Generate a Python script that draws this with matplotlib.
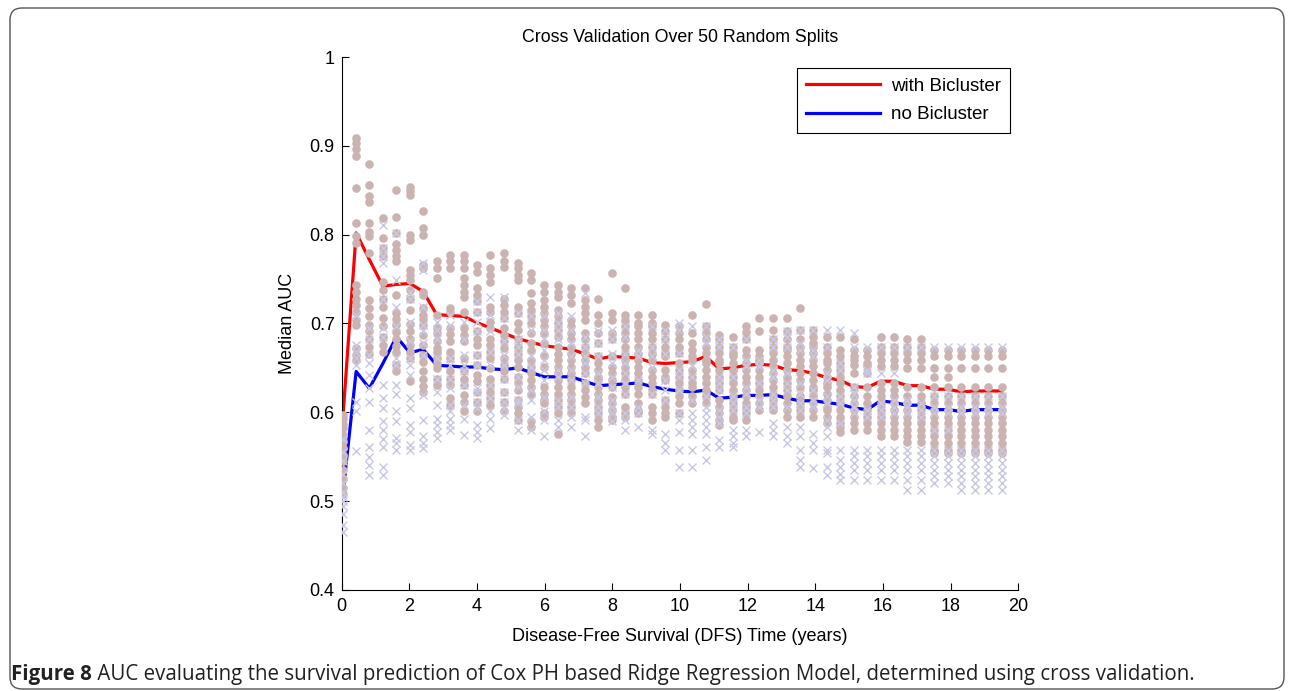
import matplotlib
matplotlib.use("Agg")
import matplotlib.pyplot as plt
from matplotlib.patches import FancyBboxPatch

# time points (years) of the 50 evaluation columns
times = [0.03, 0.43, 0.82, 1.22, 1.62, 2.02, 2.41, 2.81, 3.21, 3.61,
         4.00, 4.40, 4.80, 5.20, 5.59, 5.99, 6.39, 6.79, 7.18, 7.58,
         7.98, 8.38, 8.77, 9.17, 9.57, 9.97, 10.36, 10.76, 11.16, 11.56,
         11.95, 12.35, 12.75, 13.15, 13.54, 13.94, 14.34, 14.74, 15.13, 15.53,
         15.93, 16.33, 16.72, 17.12, 17.52, 17.92, 18.31, 18.71, 19.11, 19.51]

# median AUC lines
with_median = [0.590, 0.802, 0.772, 0.742, 0.744, 0.745, 0.736, 0.710, 0.709, 0.708,
               0.701, 0.695, 0.689, 0.683, 0.679, 0.675, 0.673, 0.671, 0.666, 0.660,
               0.663, 0.662, 0.661, 0.656, 0.655, 0.656, 0.657, 0.663, 0.649, 0.650,
               0.653, 0.654, 0.653, 0.648, 0.647, 0.644, 0.639, 0.636, 0.629, 0.628,
               0.635, 0.635, 0.630, 0.630, 0.626, 0.626, 0.623, 0.624, 0.624, 0.624]
no_median = [0.505, 0.646, 0.627, 0.655, 0.685, 0.667, 0.671, 0.653, 0.652, 0.651,
             0.651, 0.649, 0.648, 0.650, 0.645, 0.640, 0.640, 0.640, 0.635, 0.630,
             0.631, 0.632, 0.633, 0.629, 0.626, 0.624, 0.623, 0.625, 0.616, 0.617,
             0.619, 0.619, 0.620, 0.616, 0.613, 0.613, 0.611, 0.609, 0.605, 0.603,
             0.613, 0.611, 0.608, 0.608, 0.603, 0.603, 0.601, 0.603, 0.603, 0.603]

# AUC of each split (in %), one list per time column
with_pts = [
    [59.7, 59.2, 58.7, 58.2, 57.5, 56.8, 56.0, 55.2, 54.5, 53.5, 52.5, 51.5, 50.8],
    [90.9, 90.3, 89.7, 88.8, 85.3, 81.3, 79.8, 79.1, 74.3, 73.6, 72.8, 72.1, 71.3, 70.4, 69.8, 67.2, 66.5, 65.9],
    [87.9, 85.6, 84.3, 83.7, 81.3, 80.3, 79.8, 77.9, 72.7, 71.7, 70.8, 69.8, 69.1, 68.2, 67.4, 66.6],
    [81.9, 79.6, 78.5, 77.6, 74.7, 73.8, 72.8, 71.9, 70.6, 69.7, 68.5, 67.6, 66.8],
    [85.0, 82.0, 80.2, 79.0, 78.3, 77.6, 77.0, 73.2, 71.2, 70.5, 69.8, 69.0, 68.2, 67.5, 66.8, 65.3, 64.6],
    [85.4, 84.9, 84.5, 80.0, 79.4, 76.0, 75.5, 74.9, 73.8, 72.8, 71.5, 69.9, 69.1, 68.3, 67.6, 66.8, 66.1, 63.5],
    [82.7, 80.7, 80.0, 76.6, 76.2, 73.6, 73.2, 71.7, 71.0, 70.5, 69.8, 68.7, 67.6, 66.5, 65.7, 64.6, 63.8, 63.0, 62.3],
    [77.0, 76.2, 75.1, 71.0, 69.5, 68.9, 68.0, 67.2, 66.8, 66.1, 65.4, 65.0, 63.8, 63.1],
    [77.7, 77.0, 76.2, 71.7, 71.3, 69.5, 68.8, 68.0, 66.8, 66.1, 64.6, 63.8, 63.1, 61.6, 60.8],
    [77.7, 77.0, 76.2, 75.1, 74.3, 73.6, 73.0, 71.3, 69.5, 68.7, 68.0, 66.1, 64.6, 63.8, 63.1, 62.0, 61.2, 60.1],
    [76.6, 75.8, 74.0, 73.2, 72.5, 71.3, 69.1, 68.3, 67.6, 66.5, 65.3, 64.2, 63.5, 62.3, 61.2, 60.1],
    [77.7, 76.2, 75.5, 74.7, 71.9, 71.3, 70.2, 69.5, 68.3, 67.6, 66.8, 66.1, 65.0, 63.8, 63.1, 62.3, 61.6, 60.8],
    [77.9, 77.0, 76.4, 72.8, 72.1, 71.3, 70.6, 69.5, 68.7, 68.0, 67.2, 66.1, 65.3, 64.6, 63.8, 62.3, 61.2, 60.1],
    [76.8, 76.2, 75.5, 74.9, 71.9, 71.2, 70.0, 69.3, 68.2, 67.4, 66.6, 65.9, 65.1, 64.0, 63.3, 62.5, 61.4, 60.6, 59.9, 59.1],
    [75.7, 74.9, 73.4, 72.3, 71.5, 70.8, 70.0, 68.9, 67.8, 67.0, 65.9, 65.1, 64.4, 63.6, 62.9, 62.1, 59.0, 58.4],
    [74.3, 73.6, 72.7, 71.9, 71.2, 70.4, 69.7, 68.9, 67.8, 66.3, 65.1, 62.9, 62.1, 61.4, 61.0, 59.9, 59.5],
    [74.3, 73.6, 73.0, 71.5, 70.8, 70.0, 69.3, 68.5, 67.4, 66.6, 65.9, 65.1, 64.4, 63.6, 62.9, 62.1, 61.4, 60.6, 59.9, 57.6],
    [74.0, 73.2, 72.3, 70.4, 69.7, 68.9, 68.2, 67.4, 66.6, 65.9, 65.1, 64.4, 63.6, 62.9, 62.1, 61.4, 60.6, 59.9],
    [74.0, 72.7, 71.9, 71.2, 70.4, 68.9, 68.2, 67.4, 66.6, 65.9, 65.1, 64.4, 63.3, 62.5, 61.7, 61.0],
    [72.8, 71.0, 70.0, 68.9, 67.8, 66.3, 65.5, 64.8, 64.0, 63.6, 62.9, 62.1, 61.4, 60.6, 59.9, 59.1, 58.4],
    [75.7, 71.2, 70.4, 68.9, 68.2, 66.3, 65.1, 64.4, 63.6, 62.9, 61.7, 61.0, 60.3, 59.5, 59.1],
    [74.0, 71.0, 70.4, 69.7, 68.9, 68.2, 67.4, 66.6, 65.9, 65.1, 64.4, 63.6, 62.9, 62.1, 60.6, 59.9, 59.5],
    [71.0, 70.0, 69.7, 68.9, 68.2, 67.4, 66.6, 65.9, 65.1, 64.4, 63.6, 62.9, 62.1, 61.0, 60.3, 59.9],
    [71.0, 70.0, 69.7, 68.9, 68.2, 67.4, 66.6, 65.9, 64.8, 64.0, 63.3, 62.5, 62.1, 60.6, 59.9, 59.1],
    [69.8, 69.1, 68.2, 67.4, 66.7, 66.3, 64.8, 64.0, 63.6, 61.4, 60.6, 59.9, 59.5],
    [69.7, 68.9, 68.2, 67.4, 66.7, 65.5, 64.8, 64.0, 63.3, 62.5, 61.8, 61.0, 59.9],
    [71.0, 68.9, 67.8, 67.0, 66.3, 65.9, 64.8, 64.0, 63.3, 62.9, 61.8, 61.0],
    [72.2, 69.7, 68.9, 68.2, 67.4, 66.7, 65.9, 65.5, 64.8, 64.0, 63.3, 62.5, 61.8, 61.0],
    [68.7, 68.2, 67.4, 66.7, 65.9, 65.5, 64.8, 64.0, 63.3, 62.5, 61.4, 60.6, 59.9, 59.1, 58.6],
    [68.5, 67.4, 66.7, 66.3, 65.5, 64.8, 64.0, 63.3, 62.5, 61.8, 61.0, 60.3, 59.5, 59.1],
    [69.7, 69.0, 68.2, 67.0, 66.3, 65.5, 64.8, 64.0, 63.3, 62.5, 61.8, 61.0, 60.6, 59.9, 59.1],
    [70.6, 69.2, 67.0, 66.3, 65.9, 65.5, 64.8, 64.0, 63.3, 62.5, 61.8, 61.0, 60.3],
    [70.6, 69.3, 68.2, 67.4, 66.7, 65.9, 65.2, 64.4, 63.6, 62.9, 62.1, 61.4, 60.6, 60.3],
    [70.6, 69.1, 68.2, 67.4, 67.0, 66.3, 65.5, 64.8, 64.0, 63.3, 62.5, 61.8, 61.0, 60.3, 59.5],
    [71.8, 69.3, 68.2, 67.4, 66.7, 65.9, 65.2, 64.4, 63.6, 62.9, 61.8, 61.0, 60.3, 59.5],
    [69.3, 68.5, 67.8, 67.4, 66.7, 65.9, 65.2, 64.4, 63.6, 62.9, 62.5, 61.8, 61.0, 60.3, 59.5],
    [68.5, 67.4, 66.7, 65.9, 65.5, 64.8, 64.0, 63.3, 62.9, 62.1, 61.4, 60.6, 60.3, 59.5, 58.8],
    [68.5, 67.0, 66.3, 65.5, 64.8, 64.0, 63.3, 62.5, 61.8, 61.0, 60.3, 59.5, 58.8, 58.4, 57.8],
    [68.2, 67.0, 66.3, 65.9, 65.3, 64.4, 62.9, 61.8, 61.0, 60.3, 59.5, 58.8, 58.0],
    [67.0, 66.3, 65.5, 65.2, 64.4, 62.9, 61.8, 61.0, 60.3, 59.5, 58.8, 58.0],
    [68.5, 67.4, 66.7, 65.9, 65.2, 63.3, 62.5, 61.8, 61.0, 60.3, 59.5, 58.8, 58.0, 57.3],
    [68.5, 67.4, 66.7, 65.9, 65.2, 63.3, 62.5, 61.8, 61.0, 60.3, 59.5, 58.8, 58.0, 57.3],
    [68.3, 67.4, 66.7, 65.9, 65.0, 62.9, 61.8, 61.0, 60.3, 59.5, 58.8, 58.0, 57.3, 56.7],
    [68.3, 67.4, 66.7, 65.9, 65.0, 62.9, 61.8, 61.0, 60.3, 59.5, 58.8, 58.0, 57.3, 56.7],
    [67.0, 66.3, 65.0, 64.0, 62.9, 61.8, 61.0, 60.3, 59.5, 58.8, 58.0, 57.3, 56.5, 55.8, 55.4],
    [67.0, 66.3, 65.0, 64.0, 62.9, 61.8, 61.0, 60.3, 59.5, 58.8, 58.0, 57.3, 56.5, 55.8, 55.4],
    [67.0, 66.3, 65.0, 62.9, 61.8, 61.0, 60.3, 59.5, 58.8, 58.0, 57.3, 56.5, 55.8, 55.4],
    [67.0, 66.3, 65.0, 62.9, 61.8, 61.0, 60.3, 59.5, 58.8, 58.0, 57.3, 56.5, 55.8, 55.4],
    [67.0, 66.3, 65.0, 62.9, 61.8, 61.0, 60.3, 59.5, 58.8, 58.0, 57.3, 56.5, 55.8, 55.4],
    [67.0, 66.3, 65.0, 62.9, 61.8, 61.0, 60.3, 59.5, 58.8, 58.0, 57.3, 56.5, 55.8, 55.4],
]
no_pts = [
    [57.0, 55.5, 54.5, 53.0, 52.0, 51.0, 50.5, 50.0, 49.5, 48.5, 47.3, 46.5],
    [71.0, 67.6, 66.8, 66.1, 65.3, 61.2, 60.1, 55.7],
    [69.5, 68.3, 66.5, 65.5, 64.2, 62.7, 61.2, 58.0, 56.1, 55.0, 54.1, 52.9],
    [81.1, 78.5, 77.6, 76.8, 72.8, 69.5, 68.5, 63.1, 61.6, 60.5, 59.0, 58.0, 57.0, 56.1, 53.9, 52.9],
    [80.2, 74.9, 71.9, 69.7, 66.1, 65.3, 63.1, 62.1, 60.1, 59.0, 57.1, 56.5, 55.8],
    [73.6, 72.8, 70.2, 68.0, 66.1, 65.3, 64.2, 61.6, 60.5, 58.6, 57.8, 56.3, 55.8],
    [76.8, 76.0, 71.9, 69.8, 69.1, 67.8, 66.5, 62.0, 59.1, 57.3, 56.5, 56.0],
    [70.2, 69.3, 68.3, 66.1, 63.8, 62.3, 60.8, 59.3, 58.6, 57.8, 57.1],
    [71.0, 69.8, 66.1, 65.3, 63.8, 62.7, 60.8, 60.1, 59.3, 58.6, 58.0],
    [70.2, 68.3, 66.5, 65.3, 64.6, 63.1, 60.8, 59.3, 57.5],
    [72.5, 71.3, 70.2, 69.1, 66.5, 65.3, 62.7, 62.3, 61.2, 60.5, 58.6, 57.8, 57.1],
    [73.0, 71.0, 69.1, 66.8, 65.3, 63.1, 61.6, 60.1, 59.3, 58.2],
    [73.0, 70.6, 68.0, 66.5, 65.3, 63.8, 62.3, 61.2, 60.5, 59.7],
    [71.2, 68.2, 67.4, 66.6, 64.0, 62.9, 61.4, 61.0, 59.1, 58.0],
    [70.8, 69.3, 66.3, 65.1, 62.5, 61.4, 59.5, 58.0],
    [70.8, 69.3, 68.2, 67.0, 65.9, 64.8, 63.6, 61.7, 60.2, 59.1, 57.3],
    [71.2, 70.0, 69.3, 68.2, 64.8, 64.0, 61.4, 60.6, 59.1, 58.4],
    [70.8, 69.3, 67.8, 66.3, 64.8, 63.6, 61.7, 60.6, 59.5, 58.4],
    [73.4, 68.5, 67.4, 66.3, 65.5, 64.4, 63.3, 59.5, 59.1, 57.3],
    [69.1, 67.8, 66.3, 64.4, 63.3, 61.7, 60.6, 59.9],
    [69.3, 68.2, 66.6, 65.5, 64.0, 62.9, 61.4, 60.6, 59.9, 59.0],
    [69.7, 68.5, 66.6, 65.5, 64.4, 63.3, 62.1, 59.9, 59.1, 58.0],
    [67.0, 66.3, 63.6, 60.6, 59.9, 58.4],
    [69.7, 67.4, 66.3, 65.1, 62.1, 58.0, 57.6],
    [69.3, 68.2, 66.6, 63.6, 62.5, 61.4, 57.6, 56.5, 55.8],
    [70.0, 69.3, 66.7, 64.8, 64.0, 62.5, 59.9, 59.1, 57.8, 55.8, 53.9],
    [69.7, 65.2, 64.0, 61.4, 59.9, 59.1, 58.4, 57.6, 55.8, 53.9],
    [69.7, 68.5, 67.8, 61.8, 60.6, 59.9, 59.1, 58.4, 57.6, 56.1, 54.6],
    [68.2, 67.4, 64.0, 63.3, 62.5, 60.3, 59.5, 58.8, 56.9, 56.1],
    [67.4, 64.0, 61.8, 61.0, 60.3, 58.0, 57.3, 56.5, 56.1],
    [68.2, 65.9, 65.2, 62.9, 62.1, 60.6, 59.9, 58.0, 57.3],
    [65.9, 65.2, 63.3, 61.4, 60.6, 57.8],
    [68.2, 67.4, 64.8, 64.0, 62.1, 61.4, 60.6, 58.8, 58.0, 57.3],
    [69.1, 68.5, 67.4, 64.4, 63.3, 62.5, 60.6, 58.4, 57.3, 56.5],
    [69.3, 67.8, 67.0, 63.3, 62.1, 61.0, 60.3, 58.4, 57.3, 55.8, 54.6, 53.9],
    [69.3, 67.0, 66.3, 62.5, 61.4, 60.6, 57.6, 56.5, 55.8, 53.7],
    [69.3, 67.4, 64.4, 63.6, 61.8, 61.0, 59.1, 58.4, 57.3, 55.8, 55.4, 53.9, 52.9],
    [69.3, 65.5, 64.8, 61.8, 61.0, 58.8, 55.8, 54.6, 53.9, 53.1, 52.4],
    [68.9, 67.4, 62.9, 62.1, 61.4, 60.6, 59.9, 55.8, 55.1, 54.3, 53.5, 52.4],
    [67.4, 64.8, 64.4, 60.3, 59.5, 55.8, 55.1, 54.3, 53.5, 52.4],
    [67.4, 64.4, 61.0, 60.3, 59.5, 55.8, 55.1, 54.3, 53.5, 52.4],
    [67.4, 64.4, 61.4, 60.6, 59.9, 55.8, 55.1, 54.3, 53.5, 52.4],
    [67.4, 61.4, 60.6, 59.9, 55.8, 55.1, 54.3, 53.5, 52.4, 51.3],
    [67.4, 61.0, 60.3, 59.5, 55.8, 55.1, 54.3, 53.5, 52.4, 51.3],
    [67.4, 61.8, 60.6, 59.9, 58.0, 55.8, 55.1, 54.3, 53.5, 52.8, 52.0],
    [67.4, 61.8, 60.6, 59.9, 58.0, 55.8, 55.1, 54.3, 53.5, 52.8, 52.0],
    [67.4, 61.8, 60.6, 59.9, 55.8, 55.1, 54.3, 53.5, 52.8, 52.0, 51.3],
    [67.4, 61.8, 60.6, 59.9, 55.8, 55.1, 54.3, 53.5, 52.8, 52.0, 51.3],
    [67.4, 61.8, 60.6, 59.9, 55.8, 55.1, 54.3, 53.5, 52.8, 52.0, 51.3],
    [67.4, 61.8, 60.6, 59.9, 55.8, 55.1, 54.3, 53.5, 52.8, 52.0, 51.3],
]

plt.rcParams["font.family"] = ["Liberation Sans", "DejaVu Sans"]

fig = plt.figure(figsize=(12.9, 6.91), dpi=100)
ax = fig.add_axes([0.2648, 0.1462, 0.5246, 0.7713])

# median lines first, the split points sit on top of them
ax.plot(times, with_median, color="#ff0000", lw=2.3, label="with Bicluster", zorder=2)
ax.plot(times, no_median, color="#0000ff", lw=2.3, label="no Bicluster", zorder=2)

for t, vals in zip(times, with_pts):
    ax.plot([t] * len(vals), [v / 100 for v in vals], "o", ms=6.2, mfc="#cbb3b2",
            mec="none", zorder=3)
for t, vals in zip(times, no_pts):
    ax.plot([t] * len(vals), [v / 100 for v in vals], "x", ms=5.5, mew=1.0,
            color="#c8c8e4", zorder=4)

ax.set_xlim(0, 20)
ax.set_ylim(0.4, 1)
ax.set_xticks(range(0, 21, 2))
ax.set_yticks([0.4, 0.5, 0.6, 0.7, 0.8, 0.9, 1])
ax.set_yticklabels(["0.4", "0.5", "0.6", "0.7", "0.8", "0.9", "1"])
ax.tick_params(direction="in", length=5, width=0.8, labelsize=13, pad=6)
ax.tick_params(axis="y", pad=5)
ax.spines["top"].set_visible(False)
ax.spines["right"].set_visible(False)
ax.set_title("Cross Validation Over 50 Random Splits", fontsize=12.8, pad=11)
ax.set_xlabel("Disease-Free Survival (DFS) Time (years)", fontsize=13, labelpad=9)
ax.set_ylabel("Median AUC", fontsize=13, labelpad=10)

leg = ax.legend(loc="upper right", bbox_to_anchor=(0.988, 0.979), borderaxespad=0,
                fontsize=13.5, fancybox=False, framealpha=1, edgecolor="black",
                handlelength=3.9, handletextpad=0.6, borderpad=0.5, labelspacing=0.62)
leg.get_frame().set_linewidth(0.8)

# rounded frame round the whole figure
frame = FancyBboxPatch((0.10, 0.02), 12.74, 6.81, boxstyle="round,pad=0,rounding_size=0.12",
                       transform=fig.dpi_scale_trans, fill=False, edgecolor="#555555",
                       linewidth=1.0)
fig.patches.append(frame)

# caption: bold figure number followed by plain text
cap1 = fig.text(0.0085, 0.016, "Figure 8", fontsize=14.8, fontweight="bold",
                family=["Open Sans", "DejaVu Sans"], color="#222222")
ax.annotate(" AUC evaluating the survival prediction of Cox PH based Ridge Regression Model, "
            "determined using cross validation.", xy=(1, 0), xycoords=cap1, va="bottom",
            fontsize=14.8, family=["Open Sans", "DejaVu Sans"], color="#222222",
            annotation_clip=False)

fig.savefig("out.png", dpi=100)
